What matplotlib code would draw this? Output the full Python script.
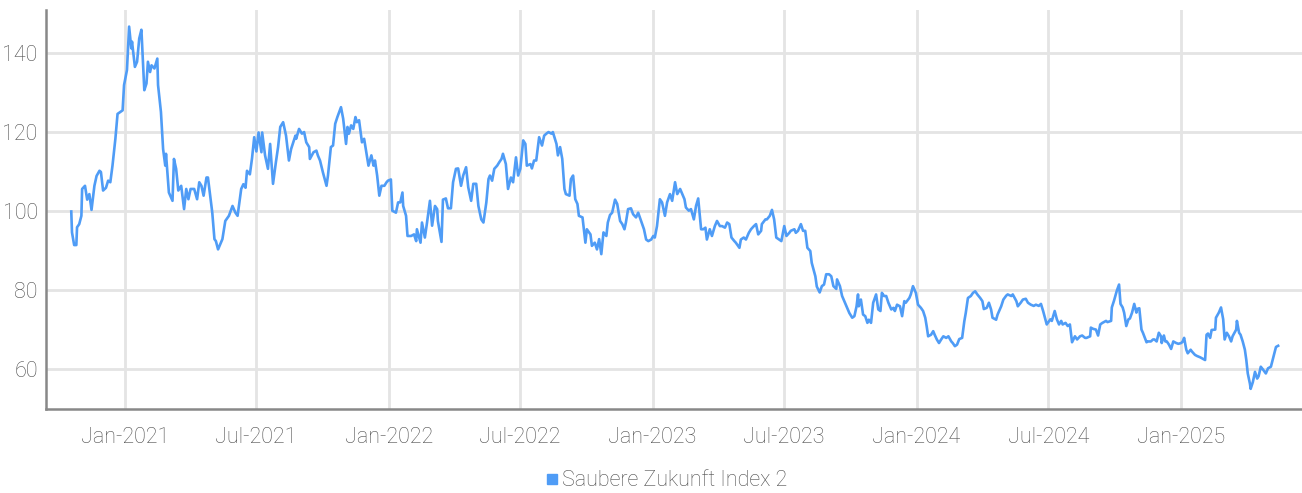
import numpy as np
import pandas as pd
import matplotlib
matplotlib.use("Agg")
import matplotlib.pyplot as plt
import matplotlib.dates as mdates
from matplotlib.lines import Line2D

plt.rcParams['font.family'] = ['Roboto', 'DejaVu Sans']
plt.rcParams['font.weight'] = 'light'

# series start date, then days since start and index level
start = pd.Timestamp('2020-10-19')
series_name = 'Saubere Zukunft Index 2'

days = [0, 1, 4, 7, 8, 11, 14, 15, 19, 22, 25, 28, 32, 35, 39, 41, 44, 48, 51, 54,
        57, 61, 64, 71, 73, 77, 80, 83, 84, 88, 91, 94, 97, 101, 104, 106, 109, 111, 115, 119,
        120, 124, 127, 130, 131, 135, 140, 142, 145, 148, 152, 156, 159, 162, 165, 170, 174, 177, 180, 183,
        187, 189, 195, 198, 200, 203, 209, 213, 218, 223, 227, 230, 235, 238, 241, 243, 247, 250, 253, 256,
        259, 263, 264, 268, 272, 275, 279, 283, 286, 289, 293, 297, 301, 304, 310, 311, 315, 319, 322, 325,
        329, 330, 335, 339, 341, 344, 348, 353, 355, 359, 362, 365, 368, 373, 376, 380, 382, 384, 387, 390,
        393, 395, 398, 402, 405, 408, 411, 415, 418, 420, 423, 426, 429, 433, 436, 438, 442, 444, 449, 452,
        455, 458, 459, 463, 465, 470, 474, 477, 478, 483, 485, 489, 492, 496, 499, 503, 506, 507, 512, 514,
        518, 521, 525, 528, 532, 535, 539, 542, 546, 549, 553, 556, 560, 563, 567, 570, 574, 577, 579, 582,
        585, 589, 592, 595, 597, 601, 604, 608, 611, 615, 618, 621, 625, 628, 630, 635, 637, 640, 643, 647,
        651, 654, 657, 660, 664, 666, 671, 673, 676, 679, 682, 684, 689, 691, 694, 697, 700, 702, 707, 711,
        713, 718, 720, 724, 727, 730, 733, 736, 740, 742, 745, 748, 752, 755, 759, 762, 765, 767, 770, 774,
        777, 781, 784, 788, 792, 795, 798, 802, 805, 807, 810, 814, 817, 821, 824, 828, 831, 835, 838, 842,
        845, 848, 850, 854, 857, 861, 864, 867, 871, 874, 877, 879, 883, 886, 890, 893, 897, 900, 904, 907,
        910, 913, 917, 919, 924, 926, 930, 933, 937, 940, 944, 947, 950, 954, 955, 960, 962, 966, 969, 972,
        975, 979, 982, 986, 989, 993, 995, 1000, 1002, 1005, 1009, 1012, 1015, 1018, 1022, 1024, 1029, 1031, 1035, 1038,
        1041, 1044, 1048, 1051, 1054, 1058, 1059, 1063, 1066, 1069, 1072, 1076, 1080, 1083, 1086, 1088, 1089, 1092, 1095, 1098,
        1101, 1103, 1106, 1109, 1113, 1116, 1119, 1121, 1124, 1127, 1130, 1134, 1137, 1139, 1142, 1146, 1149, 1152, 1154, 1159,
        1161, 1164, 1168, 1171, 1175, 1178, 1181, 1183, 1185, 1189, 1192, 1194, 1197, 1200, 1203, 1206, 1210, 1213, 1217, 1219,
        1222, 1225, 1228, 1232, 1235, 1237, 1240, 1244, 1247, 1250, 1253, 1257, 1260, 1262, 1266, 1269, 1272, 1274, 1279, 1281,
        1286, 1289, 1293, 1295, 1300, 1302, 1307, 1309, 1313, 1316, 1320, 1323, 1327, 1331, 1334, 1338, 1341, 1344, 1347, 1349,
        1354, 1356, 1360, 1363, 1366, 1369, 1371, 1375, 1378, 1381, 1384, 1388, 1391, 1395, 1398, 1402, 1404, 1409, 1410, 1413,
        1417, 1420, 1423, 1426, 1431, 1433, 1438, 1439, 1442, 1444, 1446, 1449, 1451, 1454, 1456, 1459, 1462, 1464, 1467, 1470,
        1473, 1474, 1477, 1480, 1482, 1487, 1489, 1493, 1496, 1498, 1501, 1504, 1507, 1508, 1511, 1513, 1515, 1518, 1521, 1524,
        1528, 1531, 1535, 1537, 1539, 1542, 1544, 1548, 1550, 1554, 1557, 1561, 1564, 1568, 1570, 1572, 1575, 1577, 1582, 1583,
        1587, 1590, 1593, 1595, 1598, 1601, 1604, 1606, 1611, 1612, 1615, 1617, 1620, 1623, 1625, 1627, 1630, 1631, 1634, 1637,
        1640, 1642, 1645, 1648, 1652, 1655, 1659, 1662, 1665, 1666, 1669]

values = [100, 94.7, 91.5, 91.5, 96, 96.8, 98.9, 105.7, 106.5, 103, 104.4, 100.4, 106.5, 109, 110.3, 110, 105.3, 106, 107.8, 107.4,
          111.6, 118.4, 124.7, 125.6, 132, 135.8, 146.8, 141.3, 143, 136.6, 137.9, 143.8, 146, 130.7, 132.4, 137.9, 135.3, 137, 136.2, 138.7,
          132, 125.2, 115.8, 111.6, 114.6, 104.8, 102.7, 113.3, 110.8, 105.3, 106.5, 100.6, 105.7, 103.1, 105.7, 105.7, 103.1, 107.4, 106.5, 104,
          108.6, 108.6, 99.7, 93, 92.5, 90.4, 93, 97.6, 98.9, 101.4, 99.7, 98.9, 105.7, 106.9, 106, 110.3, 109.4, 113.5, 118.8, 115.2,
          120, 115, 120, 114.2, 110.8, 117.1, 107, 112.5, 116.3, 121.4, 122.6, 119.2, 112.9, 115.8, 119.2, 118.4, 120.9, 119.7, 120.1, 117.5,
          116.3, 113.3, 115, 115.4, 114.2, 112.9, 109.9, 106.5, 109.1, 116.3, 116.7, 122.2, 123.9, 126.4, 123.5, 117.1, 121.4, 119.7, 121.8, 120.9,
          123.9, 122.6, 123.1, 117.5, 118.4, 115, 111.6, 114.2, 111.6, 112.9, 109.1, 104, 106.5, 106.5, 107.4, 107.8, 108.1, 100.2, 99.7, 102.3,
          102.3, 104.8, 101.4, 98.9, 93.8, 93.8, 94.2, 92.5, 95.5, 92.1, 97.2, 93.4, 97.2, 102.7, 96.4, 101.4, 100.6, 97.6, 92.3, 103,
          103.3, 100.8, 100.8, 107.4, 110.8, 110.9, 106.5, 109.1, 111.2, 106.1, 102.7, 107, 107, 101.4, 98, 97.2, 102.3, 108.2, 109.1, 107.8,
          110.8, 111.6, 112.5, 113.3, 114.6, 112, 105.7, 108.6, 107.4, 113.7, 109.1, 110.8, 118, 117.1, 111.6, 112, 110.9, 112.9, 112.9, 118.8,
          116.7, 119.2, 119.7, 120.1, 119.7, 120.1, 117.1, 114.2, 116.3, 113.3, 105.7, 104.4, 104, 108.2, 109.1, 103.1, 101.9, 98.9, 98.5, 92.1,
          95.5, 94.2, 91.3, 92.1, 90.4, 93, 89.2, 94.7, 93.8, 97.2, 99.1, 99.7, 103, 101.9, 97.6, 96.8, 95.5, 97.2, 100.6, 100.8,
          99.3, 98.5, 99.7, 97.6, 95.5, 92.9, 92.5, 92.9, 93.8, 93.4, 96.3, 103.1, 102.3, 98.9, 102.3, 104.4, 102.7, 107.4, 104.4, 105.7,
          104.4, 103.1, 101, 100.2, 100.6, 98, 101.4, 103.3, 95.5, 95.5, 95.9, 92.9, 95.5, 93.8, 96.3, 97.6, 96.3, 96.3, 95.9, 97.2,
          96.8, 93.4, 92.5, 92.1, 90.8, 92.9, 93.4, 92.9, 94.6, 95.5, 96.3, 96.8, 94.2, 95.1, 96.8, 98, 98, 98.9, 100.4, 98,
          93.4, 92.9, 92.5, 96.3, 93.8, 94.6, 95.1, 95.5, 94.6, 95.1, 96.8, 95.1, 95.1, 90.8, 90, 87, 83.6, 81, 79.5, 81.1,
          81.5, 84.1, 84.1, 83.6, 81.1, 80.4, 82.8, 81.1, 78.6, 77.3, 76, 74.3, 73.1, 73.5, 76, 79, 76, 77.7, 73.9, 73.5,
          71.8, 72.6, 71.8, 76.9, 79, 75.2, 74.8, 79.4, 78.6, 78.6, 76.9, 75.2, 75.6, 74.8, 76.4, 76, 73.5, 77.3, 76.9, 78.1,
          79, 81.1, 79.4, 76.4, 75.6, 74.8, 73.1, 70.9, 68.4, 68.8, 69.7, 68.8, 67.6, 66.7, 67.6, 68.4, 68, 68.4, 67.1, 66.7,
          65.9, 66.3, 67.7, 68, 72.2, 74.3, 78.1, 78.6, 79.4, 79.8, 79, 78.1, 77.3, 75.3, 75.6, 76.9, 75.2, 73.1, 72.6, 73.9,
          76, 77.7, 78.7, 79, 78.6, 79, 77.3, 76, 76.9, 77.7, 77.9, 76.9, 76.4, 76.1, 76.4, 76.1, 76.6, 74.8, 72.7, 71.4,
          72.7, 72.3, 74.8, 72.7, 71.4, 72.3, 71.4, 71.8, 71, 71.4, 66.9, 68.4, 67.6, 68.4, 68.6, 68, 68, 68.4, 70.6, 70.3,
          70.1, 68.6, 71.4, 71.8, 72.3, 72, 72.3, 75.7, 77.4, 78.7, 80, 81.5, 76.6, 75.7, 74.4, 71, 72.7, 72.9, 74.4, 76.6,
          74.4, 75.3, 75.5, 70.1, 69.3, 66.9, 67.1, 67.1, 67.6, 67.6, 67.1, 69.3, 68.4, 66.7, 68.6, 67.1, 67.1, 66.3, 65.2, 67.1,
          66.7, 66.5, 66.7, 67.1, 68, 65, 64.1, 65, 64.5, 63.7, 63.4, 63.1, 62.8, 62.4, 68.8, 69.1, 68, 70, 70.1, 73.1,
          74.4, 75.7, 72.7, 67.6, 69.3, 68.4, 67.1, 68.4, 70.1, 72.3, 69.3, 68.8, 67.1, 65, 62.4, 59, 56.4, 55.1, 56.8, 59.4,
          57.7, 58.3, 60.7, 60, 59, 60.3, 60.7, 62.8, 65, 65.7, 66]

y_ticks = [60, 80, 100, 120, 140]

dates = start + pd.to_timedelta(days, unit='D')

fig = plt.figure(figsize=(13.02, 4.93), dpi=100)
ax = fig.add_axes([0.0353, 0.1704, 0.9647, 0.8093])

line_color = '#4f9cf6'
ax.plot(dates, values, color=line_color, lw=1.9, zorder=3)

ax.set_xlim(pd.Timestamp('2020-09-14'), pd.Timestamp('2025-06-17'))
ax.set_ylim(50, 151)
ax.set_yticks(y_ticks)
ax.xaxis.set_major_locator(mdates.MonthLocator(bymonth=[1, 7]))
ax.xaxis.set_major_formatter(mdates.DateFormatter('%b-%Y'))

ax.grid(True, color='#e4e4e4', lw=2.0, zorder=0)
ax.set_axisbelow(True)
for s in ['top', 'right']:
    ax.spines[s].set_visible(False)
for s in ['left', 'bottom']:
    ax.spines[s].set_color('#888888')
    ax.spines[s].set_linewidth(1.8)

ax.tick_params(axis='both', length=0, labelsize=15.5, labelcolor='#4d4d4d')
ax.tick_params(axis='y', pad=6)
ax.tick_params(axis='x', pad=13)

handle = Line2D([], [], marker='s', color='none', markerfacecolor=line_color,
                markeredgecolor=line_color, markersize=7)
fig.legend([handle], [series_name], loc='center', bbox_to_anchor=(0.511, 0.025),
           frameon=False, fontsize=15.5, labelcolor='#4d4d4d',
           handletextpad=0.1, handlelength=0.8)

fig.savefig('out.png', dpi=100)
